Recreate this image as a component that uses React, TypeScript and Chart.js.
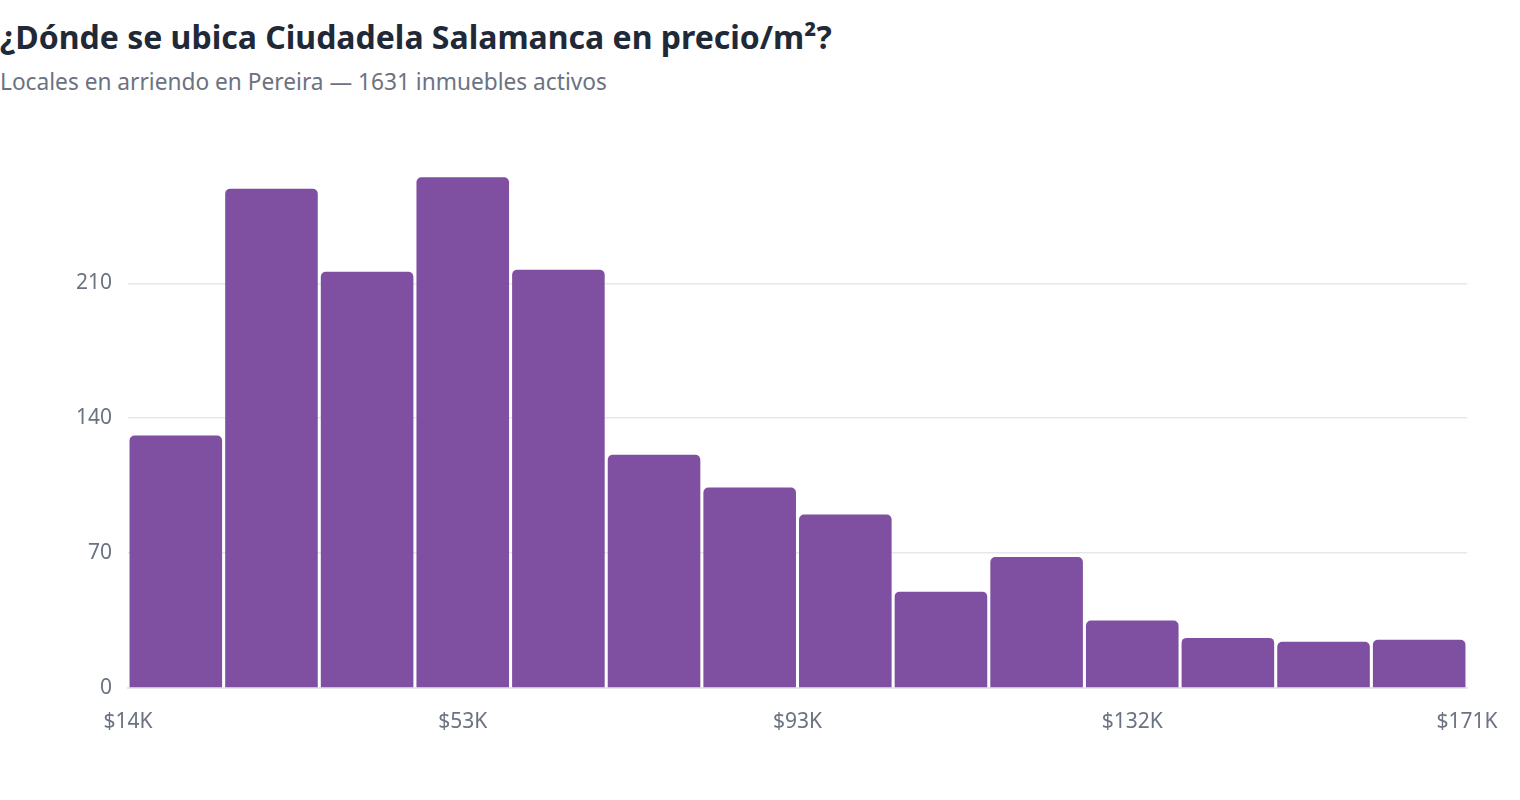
import React, { useEffect, useRef } from "react";
import { Chart, registerables } from "chart.js";

Chart.register(...registerables);

// Price-per-m² bins (COP thousands) and listing counts per bin
const binLabels = [
  "$14K–$25K", "$25K–$36K", "$36K–$48K", "$48K–$59K", "$59K–$70K",
  "$70K–$81K", "$81K–$93K", "$93K–$104K", "$104K–$115K", "$115K–$126K",
  "$126K–$137K", "$137K–$149K", "$149K–$160K", "$160K–$171K",
];
const binCounts = [131, 259, 216, 265, 217, 121, 104, 90, 50, 68, 35, 26, 24, 25];

// Price axis ticks (thousands) and their labels
const priceMin = 14;
const priceMax = 171;
const priceTickValues = [14, 53.25, 92.5, 131.75, 171];
const priceTickLabels = ["$14K", "$53K", "$93K", "$132K", "$171K"];

// Count axis ticks
const countTicks = [0, 70, 140, 210];
const countMax = 275;

const TITLE = "¿Dónde se ubica Ciudadela Salamanca en precio/m²?";
const SUBTITLE = "Locales en arriendo en Pereira — 1631 inmuebles activos";

const FONT = "'Noto Sans', 'Open Sans', sans-serif";
const BAR_COLOR = "#7f4fa1";
const TICK_COLOR = "#6b7280";
const GRID_COLOR = "#e5e7eb";

export default function App() {
  const canvasRef = useRef<HTMLCanvasElement | null>(null);

  useEffect(() => {
    document.body.style.margin = "0";
    const canvas = canvasRef.current;
    if (!canvas) return;
    const chart = new Chart(canvas, {
      type: "bar",
      data: {
        labels: binLabels,
        datasets: [
          {
            label: "Inmuebles",
            data: binCounts,
            backgroundColor: BAR_COLOR,
            borderRadius: { topLeft: 5, topRight: 5, bottomLeft: 0, bottomRight: 0 },
            borderSkipped: "start",
            barPercentage: 0.968,
            categoryPercentage: 1,
            xAxisID: "x",
          },
        ],
      },
      options: {
        animation: false,
        responsive: true,
        maintainAspectRatio: false,
        layout: { padding: { top: 58, left: 0, right: 53, bottom: 0 } },
        plugins: {
          legend: { display: false },
          title: { display: false },
          tooltip: { enabled: true },
        },
        scales: {
          x: {
            type: "category",
            display: false,
            offset: true,
          },
          price: {
            type: "linear",
            position: "bottom",
            offset: false,
            min: priceMin,
            max: priceMax,
            afterBuildTicks: (scale: any) => {
              scale.ticks = priceTickValues.map((v) => ({ value: v }));
            },
            afterFit: (scale: any) => {
              scale.height = 52;
            },
            grid: { display: false, drawTicks: false, offset: false },
            border: { display: true, color: GRID_COLOR, width: 2 },
            ticks: {
              autoSkip: false,
              maxRotation: 0,
              padding: 21,
              color: TICK_COLOR,
              font: { family: FONT, size: 21 },
              callback: (_v: any, i: number) => priceTickLabels[i],
            },
          },
          y: {
            type: "linear",
            min: 0,
            max: countMax,
            afterBuildTicks: (scale: any) => {
              scale.ticks = countTicks.map((v) => ({ value: v }));
            },
            afterFit: (scale: any) => {
              scale.width = 128;
            },
            grid: { color: GRID_COLOR, lineWidth: 1.5, drawTicks: false },
            border: { display: false },
            ticks: {
              padding: 16,
              color: TICK_COLOR,
              font: { family: FONT, size: 21 },
            },
          },
        },
      },
    });
    return () => chart.destroy();
  }, []);

  return (
    <div style={{ position: "relative", width: 1520, height: 800, background: "#fff" }}>
      <div
        style={{
          position: "absolute",
          left: 0,
          top: 16,
          fontFamily: FONT,
          fontWeight: 700,
          fontSize: 32,
          lineHeight: "42px",
          color: "#1f2937",
          whiteSpace: "nowrap",
        }}
      >
        {TITLE}
      </div>
      <div
        style={{
          position: "absolute",
          left: 0,
          top: 67,
          fontFamily: FONT,
          fontSize: 22.7,
          lineHeight: "30px",
          color: TICK_COLOR,
          whiteSpace: "nowrap",
        }}
      >
        {SUBTITLE}
      </div>
      <div style={{ position: "absolute", left: 0, top: 100, width: 1520, height: 640 }}>
        <canvas ref={canvasRef} />
      </div>
    </div>
  );
}
